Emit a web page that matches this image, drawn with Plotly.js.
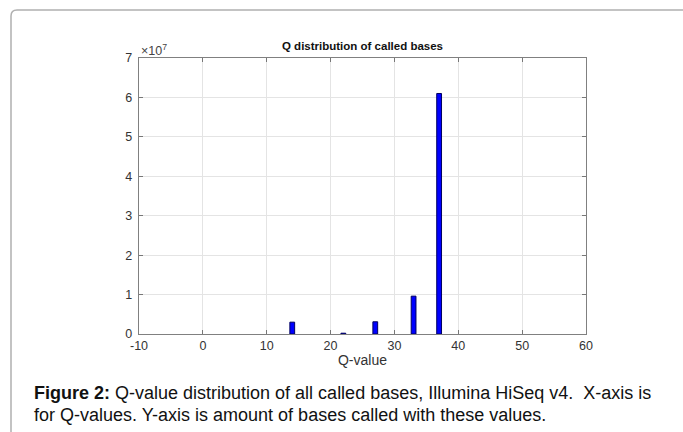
<!DOCTYPE html>
<html>
<head>
<meta charset="utf-8">
<script src="https://cdn.plot.ly/plotly-3.0.1.min.js"></script>
<style>
html,body{margin:0;padding:0;background:#fff;}
#chart{width:683px;height:432px;}
</style>
</head>
<body>
<div id="chart"></div>
<script>
// Data
const qValues = [14, 22, 27, 33, 37];
const baseCounts = [3.0e6, 2.0e5, 3.1e6, 9.6e6, 6.1e7];
const xTickVals = [-10, 0, 10, 20, 30, 40, 50, 60];
const yTickVals = [0, 1e7, 2e7, 3e7, 4e7, 5e7, 6e7, 7e7];
const yTickText = ["0", "1", "2", "3", "4", "5", "6", "7"];
const titleText = "Q distribution of called bases";
const xTitle = "Q-value";
const captionLine1 = "<b>Figure 2:</b> Q-value distribution of all called bases, Illumina HiSeq v4.  X-axis is";
const captionLine2 = "for Q-values. Y-axis is amount of bases called with these values.";

// plot area in pixels
const L = 139, R = 586, T = 58, B = 334, W = 683, H = 432;
const px = v => (v - L) / (R - L);
const py = v => (B - v) / (B - T);

const x0 = px(11), yt = py(10), yb = py(440), xr = px(690);
const dx = 6 / (R - L), dy = 6 / (B - T);
const framePath = `M ${x0},${yb} L ${x0},${yt - dy} Q ${x0},${yt} ${x0 + dx},${yt} L ${xr},${yt}`;

const trace = {
  type: 'bar',
  x: qValues,
  y: baseCounts,
  width: 0.75,
  marker: {color: '#0000ff', line: {color: '#000060', width: 1}},
  hoverinfo: 'x+y'
};

const font = 'Liberation Sans, Arial, Helvetica, sans-serif';

const layout = {
  width: W, height: H,
  margin: {l: L, r: W - R, t: T, b: H - B, pad: 0},
  paper_bgcolor: '#fff', plot_bgcolor: '#fff',
  showlegend: false,
  font: {family: font, color: '#333', size: 12.5},
  title: {
    text: '<b>' + titleText + '</b>',
    font: {family: font, size: 11.5, color: '#111'},
    x: 0.5, xref: 'paper', xanchor: 'center',
    y: 1 - 46 / H, yref: 'container', yanchor: 'middle'
  },
  xaxis: {
    range: [-10, 60], tickvals: xTickVals, ticktext: xTickVals.map(String),
    ticks: 'inside', ticklen: 4, tickcolor: '#777', tickwidth: 1,
    showline: true, linecolor: '#808080', linewidth: 1.4, mirror: 'ticks',
    showgrid: true, gridcolor: '#e4e4e4', gridwidth: 1, zeroline: false,
    tickfont: {family: font, size: 12.5, color: '#333'},
    title: {text: xTitle, font: {family: font, size: 14, color: '#333'}, standoff: 2}
  },
  yaxis: {
    range: [0, 7e7], tickvals: yTickVals, ticktext: yTickText,
    ticks: 'inside', ticklen: 4, tickcolor: '#777', tickwidth: 1,
    showline: true, linecolor: '#808080', linewidth: 1.4, mirror: 'ticks',
    showgrid: true, gridcolor: '#e4e4e4', gridwidth: 1, zeroline: false,
    tickfont: {family: font, size: 12.5, color: '#333'}, ticklabelstandoff: 3
  },
  shapes: [{
    type: 'path', xref: 'paper', yref: 'paper', path: framePath,
    line: {color: '#b0b0b0', width: 1.5}, layer: 'above'
  }],
  annotations: [
    {text: '×10<sup>7</sup>', xref: 'paper', yref: 'paper', x: 0, y: 1,
     xanchor: 'left', yanchor: 'bottom', showarrow: false, yshift: -2,
     font: {family: font, size: 12.5, color: '#444'}},
    {text: captionLine1, xref: 'paper', yref: 'paper', x: px(32), y: py(393),
     xanchor: 'left', yanchor: 'middle', showarrow: false, align: 'left',
     font: {family: font, size: 18, color: '#111'}},
    {text: captionLine2, xref: 'paper', yref: 'paper', x: px(32), y: py(415),
     xanchor: 'left', yanchor: 'middle', showarrow: false, align: 'left',
     font: {family: font, size: 18, color: '#111'}}
  ]
};

Plotly.newPlot('chart', [trace], layout, {displayModeBar: false, staticPlot: true});
</script>
</body>
</html>
